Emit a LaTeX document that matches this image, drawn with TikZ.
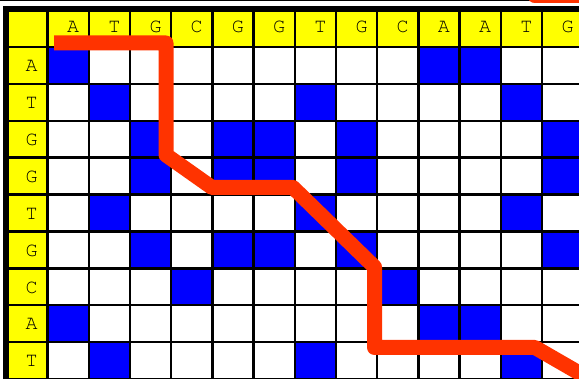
\documentclass[tikz,border=0pt]{standalone}
\usepackage[T1]{fontenc}
\usepackage{courier}
\definecolor{hdryellow}{HTML}{FFFF00}
\definecolor{hitblue}{HTML}{0000FF}
\definecolor{pathred}{HTML}{FF3300}
\tikzset{
  gridline/.style={black, line width=2.4pt},
  seqletter/.style={inner sep=0pt, anchor=base,
    font=\fontencoding{T1}\fontfamily{pcr}\fontsize{20}{20}\selectfont},
}
\begin{document}
\begin{tikzpicture}[x=1pt,y=-1pt]
        \useasboundingbox (0,0) rectangle (579,379);
        \clip (0,0) rectangle (579,379);

        % Header strips
        \fill[hdryellow] (6,9) rectangle (600,47);
        \fill[hdryellow] (6,9) rectangle (47.5,400);

        % Matching cells
        \foreach \c [count=\k] in {A,T,G,C,G,G,T,G,C,A,A,T,G} {
          \foreach \r [count=\j] in {A,T,G,G,T,G,C,A,T} {
            \ifx\c\r
              \fill[hitblue] ({47.5+41.2*(\k-1)},{47+36.9*(\j-1)}) rectangle ++(41.2,36.9);
            \fi
          }
        }

        % Grid
        \foreach \k in {0,...,13}
          \draw[gridline] ({47.5+41.2*\k},9) -- ({47.5+41.2*\k},400);
        \foreach \j in {0,...,9}
          \draw[gridline] (6,{47+36.9*\j}) -- (600,{47+36.9*\j});

        % Outer border
        \draw[black, line width=6pt] (6,400) -- (6,9) -- (600,9);
        \draw[black, line width=1.2pt] (0,0.6) -- (579,0.6);

        % Sequence letters
        \foreach \c [count=\k] in {A,T,G,C,G,G,T,G,C,A,A,T,G}
          \node[seqletter] (col-\k) at ({47.5+41.2*(\k-0.5)+5},33) {\c};
        \foreach \r [count=\j] in {A,T,G,G,T,G,C,A,T}
          \node[seqletter] (row-\j) at (31.7,{47+36.9*(\j-1)+24.7}) {\r};

        % Alignment path
        \draw[pathred, line width=15pt, line join=round]
          (54,43) -- (166,43) -- (166,155) -- (212,187.5) -- (293,187.5)
          -- (374.5,267) -- (374.5,347.5) -- (535,347.5) -- (600,385);
        \draw[pathred, line width=15pt, line cap=round] (535,-4) -- (620,-4);
\end{tikzpicture}
\end{document}
